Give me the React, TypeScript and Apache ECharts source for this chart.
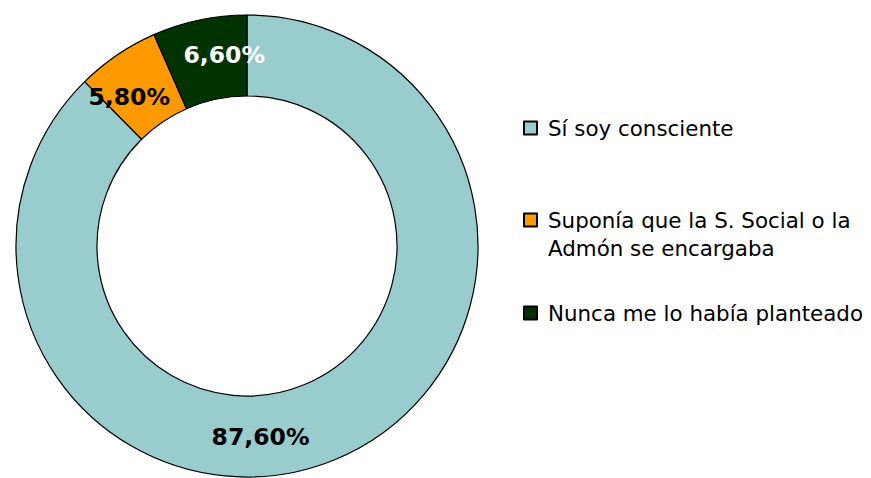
import React, { useEffect, useRef } from "react";
import * as echarts from "echarts";

const categories = [
  "Sí soy consciente",
  "Suponía que la S. Social o la\nAdmón se encargaba",
  "Nunca me lo había planteado",
];
const values = [87.6, 5.8, 6.6];
const labels = ["87,60%", "5,80%", "6,60%"];
const colors = ["#99CCCC", "#FF9900", "#003300"];
const labelColors = ["#000000", "#000000", "#FFFFFF"];

export default function App() {
  const ref = useRef<HTMLDivElement>(null);
  useEffect(() => {
    document.body.style.margin = "0";
    if (!ref.current) return;
    const chart = echarts.init(ref.current, null, { renderer: "svg" });
    const offsets: number[][] = [[-60, 12], [-9, 11], [17, -2]];
    const legendTops = [116, 178, 301];
    const font = "DejaVu Sans";
    chart.setOption({
      animation: false,
      legend: categories.map((c, i) => ({
        data: [c],
        left: 523,
        top: legendTops[i],
        orient: "vertical",
        padding: 0,
        icon: "rect",
        itemWidth: 13,
        itemHeight: 13,
        selectedMode: false,
        formatter: (name: string) => (name.indexOf("\n") >= 0 ? "\n" + name : name),
        textStyle: {
          fontFamily: font,
          fontSize: 21.4,
          color: "#000",
          lineHeight: i === 1 ? 28 : 24,
          padding: [0, 0, 0, 6],
        },
      })),
      series: [
        {
          type: "pie",
          center: [247, 246],
          radius: [150, 231],
          startAngle: 90,
          clockwise: true,
          avoidLabelOverlap: false,
          itemStyle: { borderColor: "#000", borderWidth: 1.2 },
          emphasis: { disabled: true },
          labelLine: { show: false },
          data: categories.map((c, i) => ({
            name: c,
            value: values[i],
            itemStyle: { color: colors[i] },
            label: {
              show: true,
              position: "inside",
              formatter: labels[i],
              color: labelColors[i],
              fontFamily: font,
              fontWeight: "bold",
              fontSize: 23.5,
              offset: offsets[i],
            },
          })),
        },
      ],
    });
    return () => chart.dispose();
  }, []);
  return <div ref={ref} style={{ width: 871, height: 478 }} />;
}
